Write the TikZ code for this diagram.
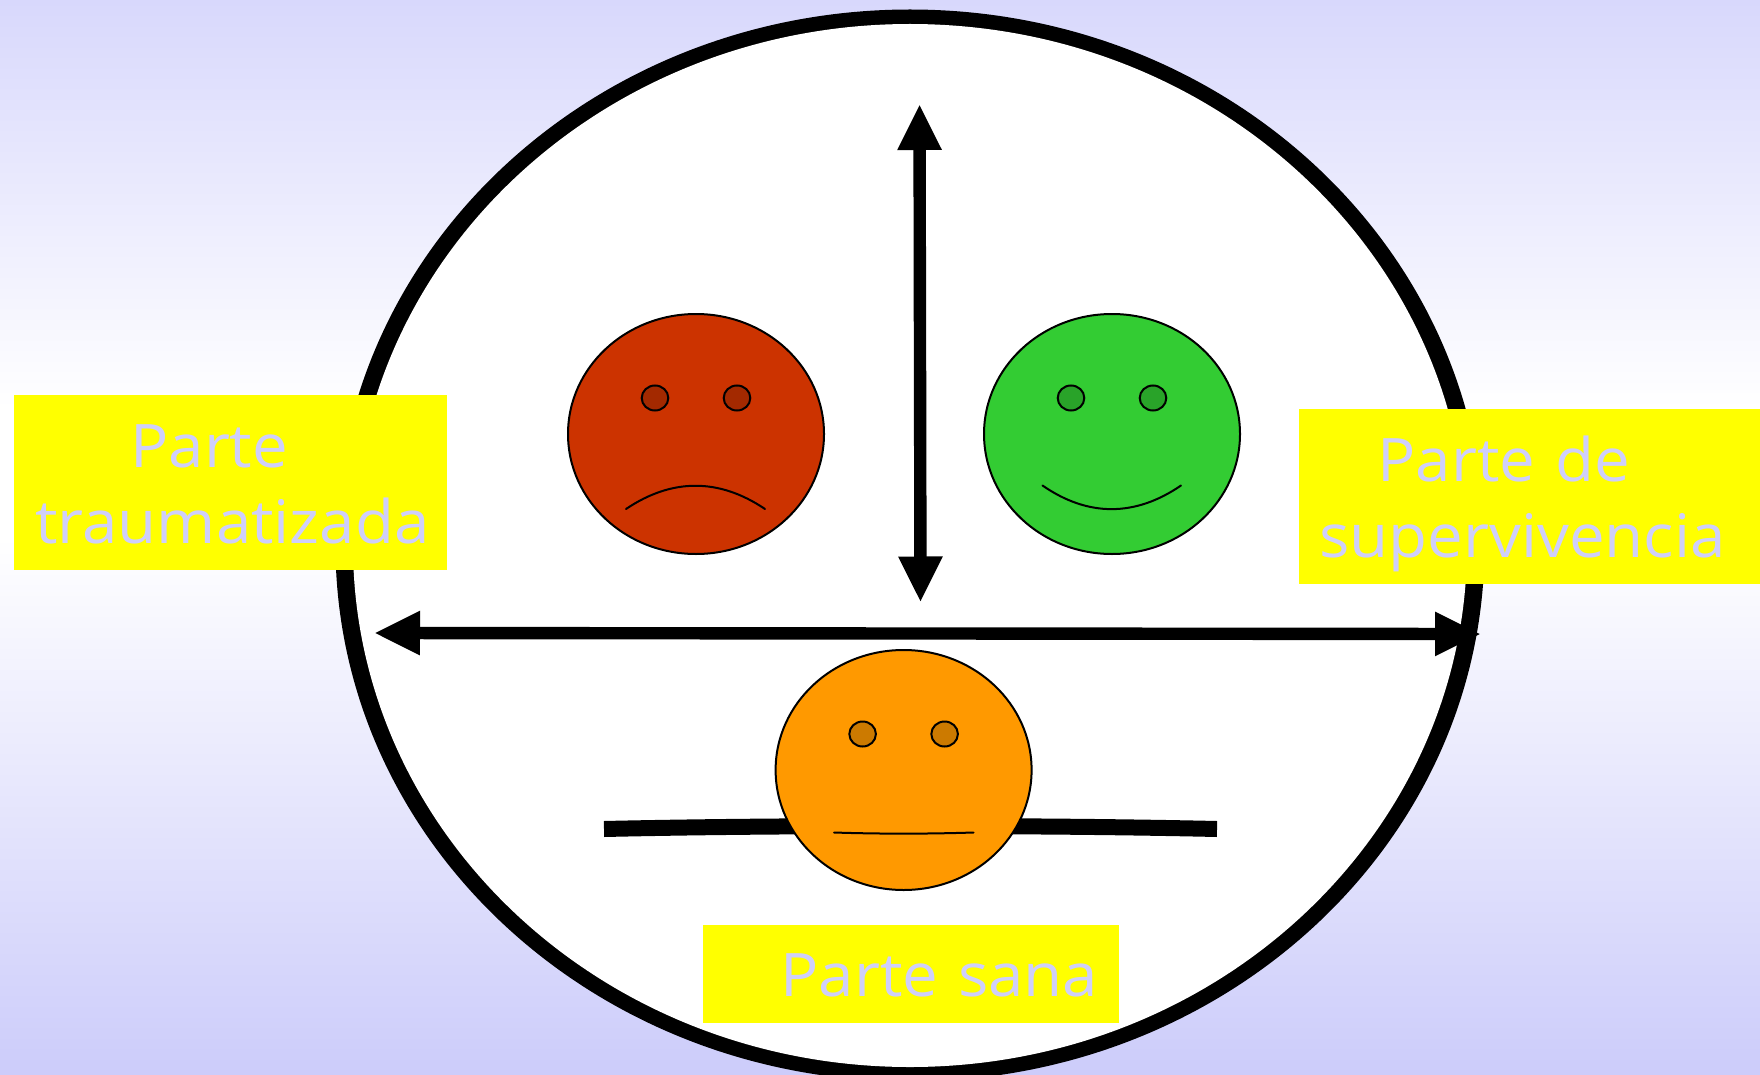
\documentclass[tikz,border=0pt]{standalone}
\usepackage{fontspec}
\usetikzlibrary{arrows.meta}
\newfontfamily\labelfont[FakeStretch=1.06]{Open Sans}
\definecolor{lav}{HTML}{CFCFFA}
\definecolor{bgbot}{HTML}{CCCCFA}
\definecolor{bgtop}{HTML}{D8D8FC}
\definecolor{boxyellow}{RGB}{255,255,0}
\definecolor{redface}{HTML}{CC3300}
\definecolor{redeye}{HTML}{A32900}
\definecolor{greenface}{HTML}{33CC33}
\definecolor{greeneye}{HTML}{29A329}
\definecolor{orangeface}{HTML}{FF9900}
\definecolor{orangeeye}{HTML}{CC7A00}
% colour stops: 25bp = bottom of the picture, 75bp = top of it
\pgfdeclareverticalshading{bggrad}{100bp}{
  color(0bp)=(bgbot); color(25bp)=(bgbot); color(50bp)=(white); color(56bp)=(white);
  color(75bp)=(bgtop); color(100bp)=(bgtop)}
\newcommand{\topfix}{\rule{0pt}{30pt}}
\newcommand{\botfix}{\rule[-7pt]{0pt}{7pt}}
\tikzset{
  x=0.5pt,y=-0.5pt,
  face/.style={draw=black,line width=1pt},
  eye/.style={draw=black,line width=1pt},
  mouth/.style={draw=black,line width=1pt,line cap=round},
  yellowbox/.style={fill=boxyellow,draw=none,anchor=north west,inner ysep=0pt,
    text=lav,align=left,font=\labelfont\fontsize{30pt}{38pt}\selectfont},
  bothways/.style={line width=6.2pt,{Triangle[length=23pt,width=20.5pt]}-{Triangle[length=23pt,width=20.5pt]}},
  bar/.style={line width=8pt,line cap=butt},
}
\newcommand{\smiley}[4]{% x, y, face colour, eye colour
  \path[fill=#3,face] (#1,#2) ellipse [x radius=128,y radius=120];
  \path[fill=#4,eye] (#1-41,#2-36) ellipse [x radius=13.3,y radius=12.5];
  \path[fill=#4,eye] (#1+41,#2-36) ellipse [x radius=13.3,y radius=12.5];
}
\begin{document}
\begin{tikzpicture}
\useasboundingbox (0,0) rectangle (1760,1075);
\shade[shading=bggrad] (0,0) rectangle (1760,1075);
\clip (0,0) rectangle (1760,1075);
\fill[black] (910,545.5) ellipse [x radius=574.5,y radius=536];
\fill[white] (910,545.5) ellipse [x radius=557,y radius=521.5];
% arrows
\coordinate (vtop) at (919.5,104);
\coordinate (vbot) at (920.5,602.5);
\coordinate (hleft) at (374,633);
\coordinate (hright) at (1481,634);
\draw[bothways] (vtop) -- (vbot);
\draw[bothways] (hleft) -- (hright);
% bar behind orange face
\coordinate (barl) at (604,829);
\coordinate (barr) at (1217,829);
\draw[bar] (barl) .. controls (780,825) and (1040,825) .. (barr);
% faces
\smiley{696}{434}{redface}{redeye}
\draw[mouth] (626,509) .. controls (672,478) and (719,478) .. (765,509);
\smiley{1112}{434}{greenface}{greeneye}
\draw[mouth] (1042.5,485.5) .. controls (1088,517) and (1135,517) .. (1181,485.5);
\smiley{903.6}{770}{orangeface}{orangeeye}
\draw[mouth] (834,832.5) .. controls (880,834) and (927,834) .. (973.5,832.5);
% labels
\node[yellowbox,minimum width=216.5pt,minimum height=87.5pt,text width=205.5pt,inner xsep=5.5pt]
  (trauma) at (14,395) {\topfix\hspace*{5pt}\hspace*{47.5pt}Parte\\\hspace*{5pt}traumatizada\botfix};
\node[yellowbox,minimum width=230.5pt,minimum height=87.5pt,text width=220.5pt,inner xsep=5pt]
  (superv) at (1299,409) {\topfix\hspace*{5pt}\hspace*{29pt}Parte de\\\hspace*{5pt}supervivencia\botfix};
\node[yellowbox,minimum width=208pt,minimum height=49pt,text width=198pt,inner xsep=5pt]
  (sana) at (703,925) {\rule[-0.5pt]{0pt}{23.5pt}\hspace*{33.5pt}Parte sana};
\end{tikzpicture}
\end{document}
